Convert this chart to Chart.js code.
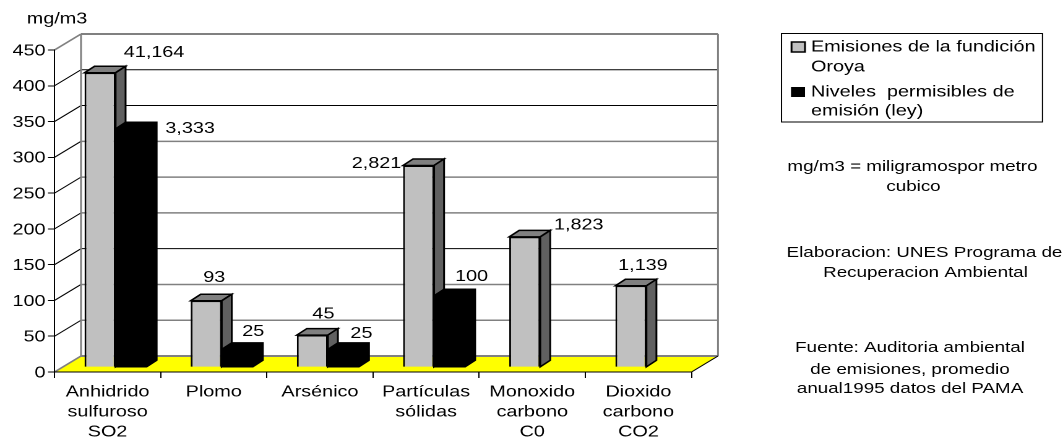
<!DOCTYPE html>
<html>
<head>
<meta charset="utf-8">
<style>
  html, body { margin: 0; padding: 0; background: #fff; overflow: hidden; }
  /* the reference is a horizontally stretched picture, so the canvas is stretched too */
  #chart { display: block; transform: scaleX(1.2375); transform-origin: 0 0; }
</style>
<script src="https://cdn.jsdelivr.net/npm/chart.js@4"></script>
</head>
<body>
<canvas id="chart" width="859" height="438"></canvas>
<script>
const categories = [
  ['Anhidrido', 'sulfuroso', 'SO2'],
  ['Plomo'],
  ['Arsénico'],
  ['Partículas', 'sólidas'],
  ['Monoxido', 'carbono', 'C0'],
  ['Dioxido', 'carbono', 'CO2']
];
const emisiones = [411.64, 93, 45, 282.1, 182.3, 113.9];
const niveles = [333.3, 25, 25, 100, null, null];
const emisionesLabels = ['41,164', '93', '45', '2,821', '1,823', '1,139'];
const nivelesLabels = ['3,333', '25', '25', '100', null, null];
const yTicks = [0, 50, 100, 150, 200, 250, 300, 350, 400, 450];

// label position relative to the top centre of its bar, in picture pixels
const emisionesOffsets = [[54, -21], [8, -24], [11, -22], [-42, -3], [54, -13], [12, -21]];
const nivelesOffsets = [[59, -1], [16, -19], [18, -17], [22, -20], null, null];

const W = 859;               // canvas width before the stretch
const K = 1.2375;            // horizontal stretch of the canvas
const X = px => px / K;      // picture x to canvas x
const DEPTH_X = X(26.5), DEPTH_Y = 16;   // floor depth
const BAR_X = X(8), BAR_Y = 4.7;         // bars stand a bit behind the front edge
const SIDE_X = X(10), SIDE_Y = 6.5;      // bar depth
const FAMILY = '"Liberation Sans", Arial, sans-serif';
const WALL_GRAY = '#808080';
// some grid lines came out black in the reference, others gray
const gridColors = { 50: WALL_GRAY, 100: WALL_GRAY, 150: '#000', 200: WALL_GRAY, 250: WALL_GRAY, 300: WALL_GRAY, 350: '#000', 400: '#000' };

function line(ctx, x1, y1, x2, y2, color, width) {
  ctx.strokeStyle = color;
  ctx.lineWidth = width;
  ctx.beginPath();
  ctx.moveTo(x1, y1);
  ctx.lineTo(x2, y2);
  ctx.stroke();
}

function poly(ctx, pts, fill) {
  ctx.beginPath();
  pts.forEach((p, i) => i ? ctx.lineTo(p[0], p[1]) : ctx.moveTo(p[0], p[1]));
  ctx.closePath();
  ctx.fillStyle = fill;
  ctx.fill();
  ctx.strokeStyle = '#000';
  ctx.lineWidth = 1.5;
  ctx.stroke();
}

function text(ctx, str, x, y, align, size) {
  ctx.font = (size || 16) + 'px ' + FAMILY;
  ctx.fillStyle = '#000';
  ctx.textAlign = align || 'center';
  ctx.textBaseline = 'middle';
  ctx.fillText(str, X(x), y + 1);
}

const box3d = {
  id: 'box3d',
  // wall, floor and grid behind the axes
  beforeDraw(chart) {
    const { ctx, chartArea: a, scales: { y } } = chart;
    const bottom = y.getPixelForValue(0), top = y.getPixelForValue(450);
    const bx = a.left + DEPTH_X, rx = a.right + DEPTH_X;
    ctx.save();
    ctx.beginPath();
    ctx.moveTo(a.left, bottom);
    ctx.lineTo(bx, bottom - DEPTH_Y);
    ctx.lineTo(rx, bottom - DEPTH_Y);
    ctx.lineTo(a.right, bottom);
    ctx.closePath();
    ctx.fillStyle = '#ffff00';
    ctx.fill();
    yTicks.forEach(v => {
      const py = y.getPixelForValue(v);
      if (v > 0 && v < 450) {
        line(ctx, a.left, py, bx, py - DEPTH_Y, '#000', 1);
        line(ctx, bx, py - DEPTH_Y, rx, py - DEPTH_Y, gridColors[v], gridColors[v] === '#000' ? 1 : 1.5);
      }
    });
    line(ctx, a.left, top, bx, top - DEPTH_Y, WALL_GRAY, 1.5);
    line(ctx, a.left, bottom, bx, bottom - DEPTH_Y, WALL_GRAY, 1.5);
    line(ctx, bx, top - DEPTH_Y, rx, top - DEPTH_Y, WALL_GRAY, 2);
    line(ctx, bx, bottom - DEPTH_Y, rx, bottom - DEPTH_Y, WALL_GRAY, 2);
    line(ctx, bx, top - DEPTH_Y, bx, bottom - DEPTH_Y, WALL_GRAY, 1.5);
    line(ctx, rx, top - DEPTH_Y, rx, bottom - DEPTH_Y, WALL_GRAY, 1.5);
    line(ctx, a.right, bottom, rx, bottom - DEPTH_Y, '#000', 1);
    ctx.restore();
  },
  // the left series has to sit under the right one, so the order is set here
  beforeDatasetsDraw(chart) {
    const { ctx } = chart;
    [0, 1].forEach(d => {
      const meta = chart.getDatasetMeta(d);
      const ds = chart.data.datasets[d];
      ctx.save();
      ctx.translate(BAR_X, -BAR_Y);
      meta.data.forEach((bar, i) => {
        if (ds.data[i] === null) return;
        const p = bar.getProps(['x', 'y', 'base', 'width']);
        const l = p.x - p.width / 2, r = p.x + p.width / 2;
        if (ds.flat) {
          // black bars: one shape, the faces can't be told apart anyway
          poly(ctx, [[l, p.base], [l, p.y], [l + SIDE_X, p.y - SIDE_Y], [r + SIDE_X, p.y - SIDE_Y], [r + SIDE_X, p.base - SIDE_Y], [r, p.base]], '#000');
        } else {
          poly(ctx, [[l, p.y], [l + SIDE_X, p.y - SIDE_Y], [r + SIDE_X, p.y - SIDE_Y], [r, p.y]], ds.topColor);
          poly(ctx, [[r, p.y], [r + SIDE_X, p.y - SIDE_Y], [r + SIDE_X, p.base - SIDE_Y], [r, p.base]], ds.sideColor);
        }
      });
      meta.controller.draw();
      ctx.restore();
    });
    return false;
  },
  afterDraw(chart) {
    const { ctx } = chart;
    ctx.save();

    // value labels
    [[0, emisionesLabels, emisionesOffsets], [1, nivelesLabels, nivelesOffsets]].forEach(([d, labels, offsets]) => {
      chart.getDatasetMeta(d).data.forEach((bar, i) => {
        if (labels[i] === null) return;
        const p = bar.getProps(['x', 'y']);
        text(ctx, labels[i], (p.x + BAR_X) * K + offsets[i][0], p.y - BAR_Y + offsets[i][1]);
      });
    });

    text(ctx, 'mg/m3', 57, 18);

    // legend
    ctx.fillStyle = '#fff';
    ctx.fillRect(X(781.5), 33.5, X(261), 88.5);
    ctx.strokeStyle = '#000';
    ctx.lineWidth = 1;
    ctx.strokeRect(X(781.5), 33.5, X(261), 88.5);
    ctx.fillStyle = '#c0c0c0';
    ctx.fillRect(X(791.5), 42, X(13.5), 10);
    ctx.lineWidth = 1.5;
    ctx.strokeRect(X(791.5), 42, X(13.5), 10);
    ctx.fillStyle = '#000';
    ctx.fillRect(X(791), 87, X(14), 10);
    text(ctx, 'Emisiones de la fundición', 811, 46, 'left');
    text(ctx, 'Oroya', 811, 66, 'left');
    text(ctx, 'Niveles  permisibles de', 811, 91, 'left');
    text(ctx, 'emisión (ley)', 811, 110, 'left');

    // notes
    const NOTE = 15.2;
    text(ctx, 'mg/m3 = miligramospor metro', 912.5, 166, 'center', NOTE);
    text(ctx, 'cubico', 913.5, 186, 'center', NOTE);
    text(ctx, 'Elaboracion: UNES Programa de', 924.5, 252, 'center', NOTE);
    text(ctx, 'Recuperacion Ambiental', 925.5, 272, 'center', NOTE);
    text(ctx, 'Fuente: Auditoria ambiental', 910, 347, 'center', NOTE);
    text(ctx, 'de emisiones, promedio', 910, 369, 'center', NOTE);
    text(ctx, 'anual1995 datos del PAMA', 910, 388, 'center', NOTE);
    ctx.restore();
  }
};

new Chart(document.getElementById('chart'), {
  type: 'bar',
  data: {
    labels: categories,
    datasets: [
      {
        label: 'Emisiones de la fundición Oroya',
        data: emisiones,
        backgroundColor: '#c0c0c0',
        borderColor: '#000',
        borderWidth: 1.5,
        topColor: '#808080',
        sideColor: '#606060'
      },
      {
        label: 'Niveles permisibles de emisión (ley)',
        data: niveles,
        backgroundColor: '#000',
        borderWidth: 0,
        flat: true
      }
    ]
  },
  options: {
    responsive: false,
    animation: false,
    devicePixelRatio: 2,
    events: [],
    categoryPercentage: 0.585,
    barPercentage: 1,
    layout: { padding: { top: 50, right: W - X(691.5), bottom: 0, left: 0 } },
    plugins: { legend: { display: false }, tooltip: { enabled: false }, title: { display: false } },
    scales: {
      x: {
        afterFit: s => { s.height = 66; },
        grid: { offset: true, drawOnChartArea: false, color: '#000', tickLength: 6 },
        border: { color: '#000' },
        ticks: {
          autoSkip: false,
          maxRotation: 0,
          padding: 4,
          color: '#000',
          font: { family: FAMILY, size: 16, lineHeight: 1.25 }
        }
      },
      y: {
        min: yTicks[0],
        max: yTicks[yTicks.length - 1],
        afterFit: s => { s.width = X(54.5); },
        afterBuildTicks: s => { s.ticks = yTicks.map(v => ({ value: v })); },
        grid: { drawOnChartArea: false, color: '#000', tickLength: X(6.5) },
        border: { color: '#000' },
        ticks: {
          padding: 2,
          labelOffset: 1,
          color: '#000',
          font: { family: FAMILY, size: 16 }
        }
      }
    }
  },
  plugins: [box3d]
});
</script>
</body>
</html>
